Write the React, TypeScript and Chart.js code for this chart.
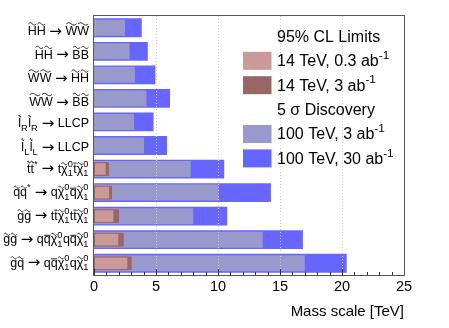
import React, { useEffect, useRef } from 'react';
import { Chart, registerables } from 'chart.js';

Chart.register(...registerables);

const FAMILY = "'Liberation Sans', Arial, Helvetica, sans-serif";
const ARROW_FAMILY = "'DejaVu Sans', sans-serif";

const categories = [
  '#tilde{H}#tilde{H} #rightarrow #tilde{W}#tilde{W}',
  '#tilde{H}#tilde{H} #rightarrow #tilde{B}#tilde{B}',
  '#tilde{W}#tilde{W} #rightarrow #tilde{H}#tilde{H}',
  '#tilde{W}#tilde{W} #rightarrow #tilde{B}#tilde{B}',
  '#tilde{l}_{R}#tilde{l}_{R} #rightarrow LLCP',
  '#tilde{l}_{L}#tilde{l}_{L} #rightarrow LLCP',
  '#tilde{t}#tilde{t}^{*} #rightarrow t#tilde{#chi}_{1}^{0}#bar{t}#tilde{#chi}_{1}^{0}',
  '#tilde{q}#tilde{q}^{*} #rightarrow q#tilde{#chi}_{1}^{0}#bar{q}#tilde{#chi}_{1}^{0}',
  '#tilde{g}#tilde{g} #rightarrow t#bar{t}#tilde{#chi}_{1}^{0}t#bar{t}#tilde{#chi}_{1}^{0}',
  '#tilde{g}#tilde{g} #rightarrow q#bar{q}#tilde{#chi}_{1}^{0}q#bar{q}#tilde{#chi}_{1}^{0}',
  '#tilde{g}#tilde{q} #rightarrow q#bar{q}#tilde{#chi}_{1}^{0}q#tilde{#chi}_{1}^{0}',
];

// 95% CL limits (TeV)
const limit14TeV03 = [null, null, null, null, null, null, 1.02, 1.3, 1.64, 2.04, 2.77];
const limit14TeV3 = [null, null, null, null, null, null, 1.2, 1.45, 2.02, 2.4, 3.04];
// 5 sigma discovery (TeV)
const disc100TeV3 = [2.5, 2.87, 3.3, 4.23, 3.23, 4.03, 7.8, 10.05, 8.0, 13.6, 17.0];
const disc100TeV30 = [3.85, 4.34, 4.95, 6.13, 4.8, 5.89, 10.5, 14.27, 10.75, 16.85, 20.38];

const seriesNames = ['14 TeV, 0.3 ab^{-1}', '14 TeV, 3 ab^{-1}', '100 TeV, 3 ab^{-1}', '100 TeV, 30 ab^{-1}'];
const legendHeaders = ['95% CL Limits', '5 #sigma Discovery'];
const xTitle = 'Mass scale [TeV]';
const xMin = 0;
const xMax = 25;
const xStep = 5;

const PINK = 'rgb(204,153,153)';
const DARKRED = 'rgb(153,102,102)';
const GREY = 'rgb(153,153,204)';
const BLUE = 'rgb(102,102,255)';

type Tok =
  | { k: 't'; s: string }
  | { k: 'arrow' }
  | { k: 'tilde'; s: string }
  | { k: 'bar'; s: string }
  | { k: 'scr'; sub?: string; sup?: string };

function parseRich(src: string): Tok[] {
  const s = src.replace(/#chi/g, '\u03c7').replace(/#sigma/g, '\u03c3');
  const out: Tok[] = [];
  let buf = '';
  let i = 0;
  const readGroup = (j: number) => {
    let depth = 0;
    let k = j;
    for (; k < s.length; k++) {
      if (s[k] === '{') depth++;
      else if (s[k] === '}') {
        depth--;
        if (depth === 0) break;
      }
    }
    return { content: s.slice(j + 1, k), end: k + 1 };
  };
  const flush = () => {
    if (buf) {
      out.push({ k: 't', s: buf });
      buf = '';
    }
  };
  while (i < s.length) {
    if (s.startsWith('#rightarrow', i)) {
      flush();
      out.push({ k: 'arrow' });
      i += 11;
    } else if (s.startsWith('#tilde{', i)) {
      flush();
      const g = readGroup(i + 6);
      out.push({ k: 'tilde', s: g.content });
      i = g.end;
    } else if (s.startsWith('#bar{', i)) {
      flush();
      const g = readGroup(i + 4);
      out.push({ k: 'bar', s: g.content });
      i = g.end;
    } else if ((s[i] === '_' || s[i] === '^') && s[i + 1] === '{') {
      flush();
      const tok: { k: 'scr'; sub?: string; sup?: string } = { k: 'scr' };
      while (i < s.length && (s[i] === '_' || s[i] === '^') && s[i + 1] === '{') {
        const g = readGroup(i + 1);
        if (s[i] === '_') tok.sub = g.content;
        else tok.sup = g.content;
        i = g.end;
      }
      out.push(tok);
    } else {
      buf += s[i];
      i++;
    }
  }
  flush();
  return out;
}

function topOf(ch: string, size: number) {
  if (/[A-Z]|[lbdhk]/.test(ch)) return size * 0.73;
  if (ch === 't') return size * 0.66;
  return size * 0.53;
}

function drawRich(
  ctx: CanvasRenderingContext2D,
  src: string,
  x: number,
  baseline: number,
  size: number,
  align: 'left' | 'right'
) {
  const toks = parseRich(src);
  const main = `${size}px ${FAMILY}`;
  const small = `${size * 0.74}px ${FAMILY}`;
  const arrowFont = `${size * 1.2}px ${ARROW_FAMILY}`;
  const widths = toks.map((t) => {
    if (t.k === 'scr') {
      ctx.font = small;
      return Math.max(t.sub ? ctx.measureText(t.sub).width : 0, t.sup ? ctx.measureText(t.sup).width : 0) + 0.5;
    }
    if (t.k === 'arrow') {
      ctx.font = arrowFont;
      return ctx.measureText('\u2192').width;
    }
    ctx.font = main;
    return ctx.measureText(t.s).width;
  });
  const total = widths.reduce((a, b) => a + b, 0);
  let cx = align === 'right' ? x - total : x;
  ctx.textAlign = 'left';
  ctx.textBaseline = 'alphabetic';
  ctx.fillStyle = '#000';
  toks.forEach((t, idx) => {
    const w = widths[idx];
    if (t.k === 'scr') {
      ctx.font = small;
      if (t.sup) ctx.fillText(t.sup, cx, baseline - size * 0.45);
      if (t.sub) ctx.fillText(t.sub, cx, baseline + size * 0.3);
    } else if (t.k === 'arrow') {
      ctx.font = arrowFont;
      ctx.fillText('\u2192', cx, baseline + size * 0.05);
    } else {
      ctx.font = main;
      ctx.fillText(t.s, cx, baseline);
      if (t.k === 'tilde') {
        const top = baseline - topOf(t.s, size);
        const yc = top - size * 0.18;
        const tw = w * 0.85;
        const x0 = cx + (w - tw) / 2;
        const h = size * 0.09;
        ctx.save();
        ctx.strokeStyle = '#000';
        ctx.lineWidth = 0.9;
        ctx.beginPath();
        for (let n = 0; n <= 16; n++) {
          const f = n / 16;
          const px = x0 + f * tw;
          const py = yc - h * Math.sin(2 * Math.PI * f);
          if (n === 0) ctx.moveTo(px, py);
          else ctx.lineTo(px, py);
        }
        ctx.stroke();
        ctx.restore();
      } else if (t.k === 'bar') {
        const top = baseline - topOf(t.s, size);
        const yb = top - size * 0.1;
        ctx.save();
        ctx.strokeStyle = '#000';
        ctx.lineWidth = 0.9;
        ctx.beginPath();
        ctx.moveTo(cx + w * 0.05, yb);
        ctx.lineTo(cx + w * 0.95, yb);
        ctx.stroke();
        ctx.restore();
      }
    }
    cx += w;
  });
}

const rootPlugin = {
  id: 'rootStyle',
  afterDatasetsDraw(chart: any) {
    const { ctx, chartArea: a, scales } = chart;
    const xs = scales.x;
    const ys = scales.y;
    ctx.save();
    // dotted grid on top of bars
    ctx.strokeStyle = 'rgb(205,205,205)';
    ctx.lineWidth = 1;
    ctx.setLineDash([1, 2]);
    xs.ticks.forEach((tk: any) => {
      if (tk.value <= xMin || tk.value >= xMax) return;
      const px = Math.round(xs.getPixelForValue(tk.value)) + 0.5;
      ctx.beginPath();
      ctx.moveTo(px, a.top);
      ctx.lineTo(px, a.bottom);
      ctx.stroke();
    });
    ctx.setLineDash([]);
    // inward ticks on the x axis (major + minor)
    ctx.strokeStyle = '#333';
    const minor = xStep / 5;
    for (let v = xMin; v <= xMax + 1e-9; v += minor) {
      const major = Math.abs(v / xStep - Math.round(v / xStep)) < 1e-6;
      const len = major ? 6 : 3;
      const px = Math.round(xs.getPixelForValue(v)) + 0.5;
      ctx.beginPath();
      ctx.moveTo(px, a.bottom);
      ctx.lineTo(px, a.bottom - len);
      ctx.stroke();
    }
    // frame
    ctx.strokeStyle = '#555';
    ctx.strokeRect(a.left - 0.5, a.top - 0.5, a.right - a.left + 1, a.bottom - a.top + 1);
    // category labels
    chart.data.labels.forEach((lab: string, i: number) => {
      const yc = ys.getPixelForValue(i);
      const hasSup = lab.includes('^{0}');
      const hasSub = lab.includes('_{');
      const off = hasSup && hasSub ? 3.5 : hasSub ? 5.5 : 7.5;
      drawRich(ctx, lab, a.left - 5, yc + off, 12.5, 'right');
    });
    // legend
    const ds = chart.data.datasets;
    const rows: { text: string; color?: string }[] = [
      { text: legendHeaders[0] },
      { text: ds[0].label, color: ds[0].backgroundColor },
      { text: ds[1].label, color: ds[1].backgroundColor },
      { text: legendHeaders[1] },
      { text: ds[2].label, color: ds[2].backgroundColor },
      { text: ds[3].label, color: ds[3].backgroundColor },
    ];
    rows.forEach((r, i) => {
      const bl = 41.7 + i * 24.4;
      if (r.color) {
        ctx.fillStyle = r.color;
        ctx.fillRect(243, bl - 14.3, 28.5, 18);
      }
      drawRich(ctx, r.text, 277, bl, 16, 'left');
    });
    ctx.restore();
  },
};

export default function App() {
  const ref = useRef<HTMLCanvasElement>(null);
  useEffect(() => {
    document.body.style.margin = '0';
    Chart.defaults.font.family = FAMILY;
    const chart = new Chart(ref.current as HTMLCanvasElement, {
      type: 'bar',
      data: {
        labels: categories,
        datasets: [
          {
            label: seriesNames[0],
            data: limit14TeV03 as any,
            backgroundColor: PINK,
            borderColor: DARKRED,
            borderWidth: 1,
            borderSkipped: false,
            barPercentage: 0.58,
            categoryPercentage: 1,
            grouped: false,
          } as any,
          {
            label: seriesNames[1],
            data: limit14TeV3 as any,
            backgroundColor: DARKRED,
            barPercentage: 0.58,
            categoryPercentage: 1,
            grouped: false,
          } as any,
          {
            label: seriesNames[2],
            data: disc100TeV3,
            backgroundColor: GREY,
            barPercentage: 0.68,
            categoryPercentage: 1,
            grouped: false,
          } as any,
          {
            label: seriesNames[3],
            data: disc100TeV30,
            backgroundColor: BLUE,
            barPercentage: 0.8,
            categoryPercentage: 1,
            grouped: false,
          } as any,
        ],
      },
      options: {
        indexAxis: 'y',
        animation: false,
        responsive: false,
        devicePixelRatio: 1,
        layout: { padding: { top: 16, right: 45, left: 0, bottom: 0 } },
        plugins: { legend: { display: false }, tooltip: { enabled: false } },
        scales: {
          x: {
            type: 'linear',
            min: xMin,
            max: xMax,
            ticks: {
              stepSize: xStep,
              color: '#000',
              font: { size: 14.5, family: FAMILY },
              padding: 3,
            },
            grid: { display: false, drawTicks: false },
            border: { display: false },
            title: {
              display: true,
              text: xTitle,
              align: 'end',
              color: '#000',
              font: { size: 15, family: FAMILY },
              padding: { top: 0, bottom: 7 },
            },
            afterFit: (s: any) => {
              s.height = 53;
            },
          },
          y: {
            type: 'category',
            ticks: { display: false },
            grid: { display: false, drawTicks: false },
            border: { display: false },
            afterFit: (s: any) => {
              s.width = 94;
            },
          },
        },
      } as any,
      plugins: [rootPlugin],
    });
    return () => chart.destroy();
  }, []);
  return (
    <div style={{ width: 449, height: 328 }}>
      <canvas ref={ref} width={449} height={328} style={{ display: 'block' }} />
    </div>
  );
}
